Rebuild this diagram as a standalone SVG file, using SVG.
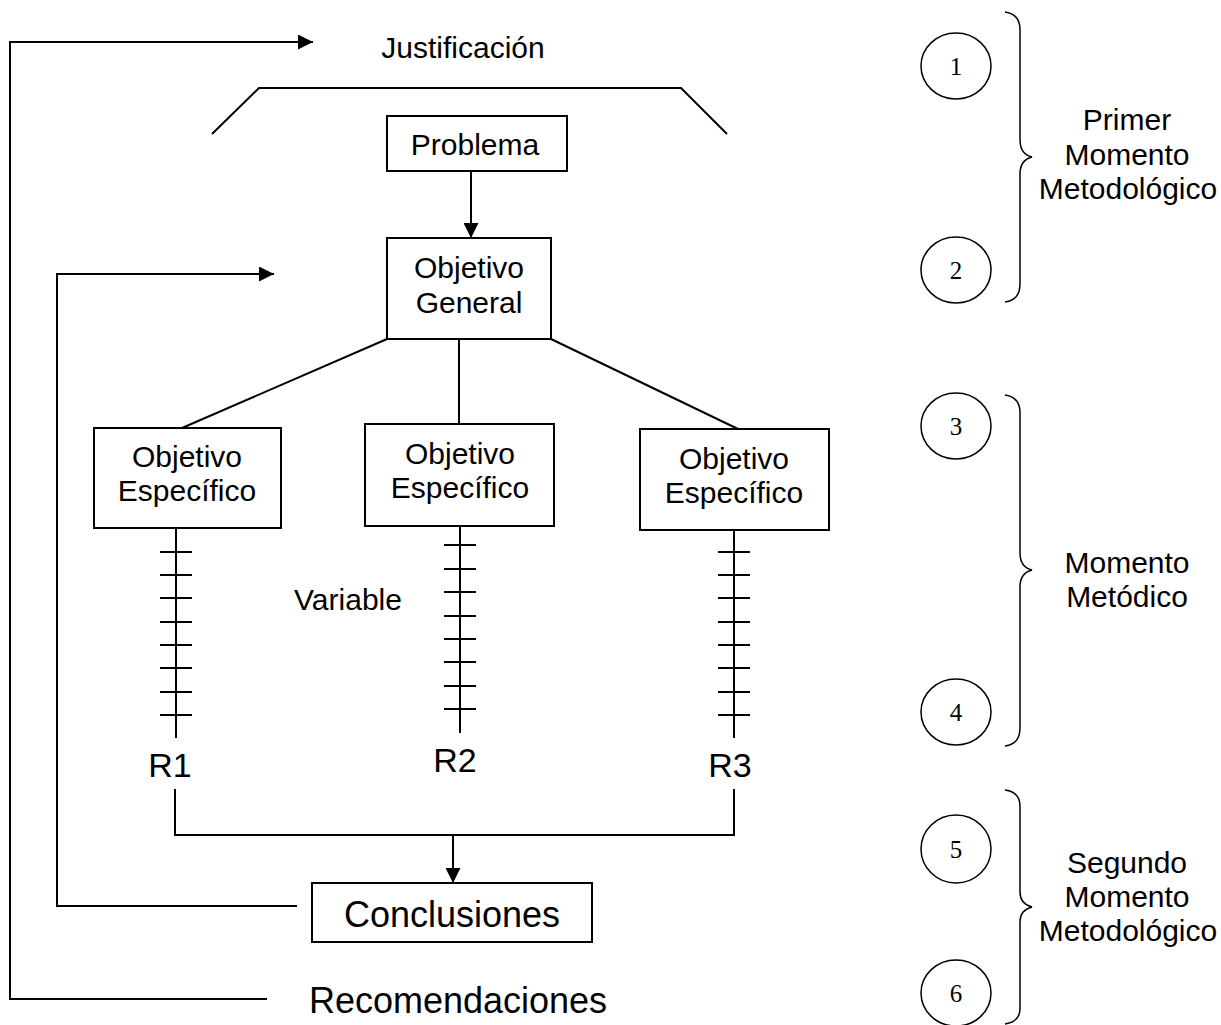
<svg xmlns="http://www.w3.org/2000/svg" width="1221" height="1025" viewBox="0 0 1221 1025">
<defs>
<marker id="arr" viewBox="0 0 10 10" refX="10" refY="5" markerWidth="15" markerHeight="15" markerUnits="userSpaceOnUse" orient="auto"><path d="M0,0 L10,5 L0,10 z" fill="#000"/></marker>
<style>
.ln{fill:none;stroke:#000;stroke-width:2}
.bx{fill:#fff;stroke:#000;stroke-width:2}
.t{font-family:"Liberation Sans",Arial,sans-serif;fill:#000;text-anchor:middle;font-size:30px}
.big{font-size:36px}
.r{font-size:34px}
.n{font-family:"Liberation Serif","Times New Roman",serif;fill:#000;text-anchor:middle;font-size:25px}
.c{fill:none;stroke:#000;stroke-width:1.5}
</style>
</defs>
<rect width="1221" height="1025" fill="#fff"/>
<g id="connectors">
<path class="ln" d="M267,999 H10 V42 H313" marker-end="url(#arr)"/>
<path class="ln" d="M297,906 H57 V274 H274" marker-end="url(#arr)"/>
<path class="ln" d="M212,134 L259,88 H681 L727,134"/>
<path class="ln" d="M471,171 V238" marker-end="url(#arr)"/>
<path class="ln" d="M387,339 L182,428 M459,339 V424 M551,339 L738,429"/>
<path class="ln" d="M176,528 V738 M160,552 H192 M160,575 H192 M160,598 H192 M160,622 H192 M160,645 H192 M160,668 H192 M160,692 H192 M160,715 H192"/>
<path class="ln" d="M460,522 V733 M444,545 H476 M444,569 H476 M444,592 H476 M444,616 H476 M444,639 H476 M444,662 H476 M444,686 H476 M444,709 H476"/>
<path class="ln" d="M734,530 V738 M718,552 H750 M718,575 H750 M718,598 H750 M718,622 H750 M718,645 H750 M718,668 H750 M718,692 H750 M718,715 H750"/>
<path class="ln" d="M175,789 V835 H734 V789"/>
<path class="ln" d="M453,835 V883" marker-end="url(#arr)"/>
</g>
<text class="t" x="463" y="58">Justificación</text>
<g id="problema"><rect class="bx" x="387" y="116" width="180" height="55"/><text class="t" x="475" y="155">Problema</text></g>
<g id="objetivo-general"><rect class="bx" x="387" y="238" width="164" height="101"/><text class="t" x="469" y="278">Objetivo</text><text class="t" x="469" y="313">General</text></g>
<g id="oe1"><rect class="bx" x="94" y="428" width="187" height="100"/><text class="t" x="187" y="467">Objetivo</text><text class="t" x="187" y="501">Específico</text></g>
<g id="oe2"><rect class="bx" x="365" y="424" width="189" height="102"/><text class="t" x="460" y="464">Objetivo</text><text class="t" x="460" y="498">Específico</text></g>
<g id="oe3"><rect class="bx" x="640" y="429" width="189" height="101"/><text class="t" x="734" y="469">Objetivo</text><text class="t" x="734" y="503">Específico</text></g>
<text class="t" x="348" y="610">Variable</text>
<text class="t r" x="170" y="777">R1</text>
<text class="t r" x="455" y="772">R2</text>
<text class="t r" x="730" y="777">R3</text>
<g id="conclusiones"><rect class="bx" x="312" y="883" width="280" height="59"/><text class="t big" x="452" y="927">Conclusiones</text></g>
<text class="t big" x="458" y="1013">Recomendaciones</text>
<g id="c1"><ellipse class="c" cx="956" cy="66" rx="35" ry="33"/><text class="n" x="956" y="75">1</text></g>
<g id="c2"><ellipse class="c" cx="956" cy="270" rx="35" ry="33"/><text class="n" x="956" y="279">2</text></g>
<g id="c3"><ellipse class="c" cx="956" cy="426" rx="35" ry="33"/><text class="n" x="956" y="435">3</text></g>
<g id="c4"><ellipse class="c" cx="956" cy="712" rx="35" ry="33"/><text class="n" x="956" y="721">4</text></g>
<g id="c5"><ellipse class="c" cx="956" cy="849" rx="35" ry="34"/><text class="n" x="956" y="858">5</text></g>
<g id="c6"><ellipse class="c" cx="956" cy="993" rx="35" ry="33"/><text class="n" x="956" y="1002">6</text></g>
<g id="brace1"><path class="c" d="M1005,12 Q1020,14 1020,30 V140 Q1020,154 1032,157 Q1020,160 1020,174 V284 Q1020,300 1005,302"/><text class="t" x="1127" y="130">Primer</text><text class="t" x="1127" y="165">Momento</text><text class="t" x="1128" y="199">Metodológico</text></g>
<g id="brace2"><path class="c" d="M1005,395 Q1020,397 1020,413 V553 Q1020,567 1032,570 Q1020,573 1020,587 V728 Q1020,744 1005,746"/><text class="t" x="1127" y="573">Momento</text><text class="t" x="1127" y="607">Metódico</text></g>
<g id="brace3"><path class="c" d="M1005,790 Q1020,792 1020,806 V892 Q1020,904 1032,907 Q1020,910 1020,922 V1008 Q1020,1022 1005,1024"/><text class="t" x="1127" y="873">Segundo</text><text class="t" x="1127" y="907">Momento</text><text class="t" x="1128" y="941">Metodológico</text></g>
</svg>
